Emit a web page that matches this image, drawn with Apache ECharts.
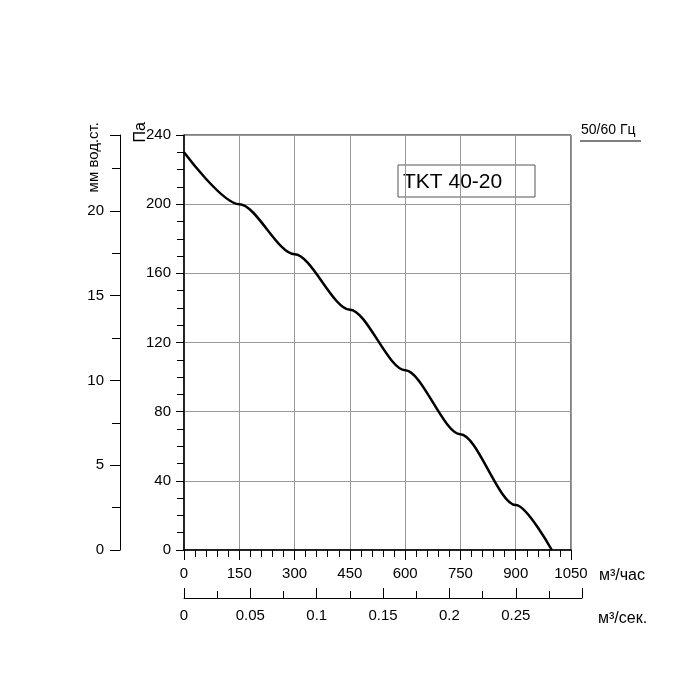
<!DOCTYPE html>
<html lang="ru">
  <head>
    <meta charset="UTF-8" />
    <title>TKT 40-20</title>
    <style>
      html, body { margin: 0; padding: 0; background: #fff; }
      #chart { width: 700px; height: 700px; }
    </style>
  </head>
  <body>
    <div id="chart"></div>
    <script src="https://cdn.jsdelivr.net/npm/echarts@6/dist/echarts.min.js"></script>
    <script>
      // данные кривой (м3/час, Па)
      var flow = [0, 150, 300, 450, 600, 750, 900, 998];
      var pressure = [230, 200, 171, 139, 104, 67, 26, 0];
      var curve = flow.map(function (q, i) { return [q, pressure[i]]; });

      var font = 'Liberation Sans, Arial, sans-serif';
      var chart = echarts.init(document.getElementById('chart'));

      var option = {
        animation: false,
        textStyle: { fontFamily: font },
        grid: [
          { left: 184, top: 135, width: 387, height: 415, show: true, borderColor: '#000', borderWidth: 1 },
          { left: 184, top: 597, width: 398, height: 1 }
        ],
        xAxis: [
          {
            gridIndex: 0, type: 'value', min: 0, max: 1050, interval: 150,
            axisLine: { lineStyle: { color: '#000', width: 1.5 } },
            axisTick: { length: 10, lineStyle: { color: '#000' } },
            minorTick: { show: true, splitNumber: 5, length: 7, lineStyle: { color: '#000' } },
            splitLine: { lineStyle: { color: '#999' } },
            axisLabel: { color: '#000', fontSize: 15, margin: 16, formatter: function (v) { return String(v); } }
          },
          {
            gridIndex: 1, type: 'value', min: 0, max: 0.2999, interval: 0.05,
            axisLine: { lineStyle: { color: '#000' } },
            axisTick: { inside: true, length: 10, lineStyle: { color: '#000' } },
            minorTick: { show: true, splitNumber: 2, length: 7, lineStyle: { color: '#000' } },
            splitLine: { show: false },
            axisLabel: { color: '#000', fontSize: 15, margin: 10, showMaxLabel: false,
              formatter: function (v) { return String(+v.toFixed(3)); } }
          }
        ],
        yAxis: [
          {
            gridIndex: 0, type: 'value', min: 0, max: 240, interval: 40,
            axisLine: { lineStyle: { color: '#000', width: 1.5 } },
            axisTick: { length: 8, lineStyle: { color: '#000' } },
            minorTick: { show: true, splitNumber: 4, length: 7, lineStyle: { color: '#000' } },
            splitLine: { lineStyle: { color: '#999' } },
            axisLabel: { color: '#000', fontSize: 15, margin: 13 }
          },
          {
            gridIndex: 0, type: 'value', position: 'left', offset: 64,
            min: 0, max: 24.47, interval: 5,
            axisLine: { show: true, lineStyle: { color: '#000' } },
            axisTick: { show: true, length: 10, lineStyle: { color: '#000' } },
            minorTick: { show: true, splitNumber: 2, length: 8, lineStyle: { color: '#000' } },
            splitLine: { show: false },
            axisLabel: { color: '#000', fontSize: 15, margin: 16, showMaxLabel: false }
          },
          { gridIndex: 1, type: 'value', show: false }
        ],
        graphic: [
          { type: 'text', x: 141, y: 122, rotation: Math.PI / 2, style: { text: 'Па', font: '16px ' + font, fill: '#000', textAlign: 'right', textVerticalAlign: 'middle' } },
          { type: 'text', x: 94, y: 122, rotation: Math.PI / 2, style: { text: 'мм вод.ст.', font: '15px ' + font, fill: '#000', textAlign: 'right', textVerticalAlign: 'middle' } },
          { type: 'text', x: 599, y: 576, style: { text: 'м³/час', font: '16px ' + font, fill: '#000', textVerticalAlign: 'middle' } },
          { type: 'text', x: 598, y: 619, style: { text: 'м³/сек.', font: '16px ' + font, fill: '#000', textVerticalAlign: 'middle' } },
          { type: 'text', x: 581, y: 130, style: { text: '50/60 Гц', font: '14px ' + font, fill: '#000', textVerticalAlign: 'middle' } },
          { type: 'line', shape: { x1: 580, y1: 141, x2: 641, y2: 141 }, style: { stroke: '#000', lineWidth: 1 } },
          { type: 'rect', shape: { x: 398, y: 165, width: 137, height: 32 }, style: { fill: '#fff', stroke: '#555', lineWidth: 1 } },
          { type: 'text', x: 403, y: 182, style: { text: 'TKT 40-20', font: '21px ' + font, fill: '#000', textVerticalAlign: 'middle' } }
        ],
        series: [
          {
            type: 'line', xAxisIndex: 0, yAxisIndex: 0, data: curve, smooth: 0.3, smoothMonotone: 'x',
            showSymbol: false, lineStyle: { color: '#000', width: 2.5 }, z: 5
          }
        ]
      };

      chart.setOption(option);
    </script>
  </body>
</html>
